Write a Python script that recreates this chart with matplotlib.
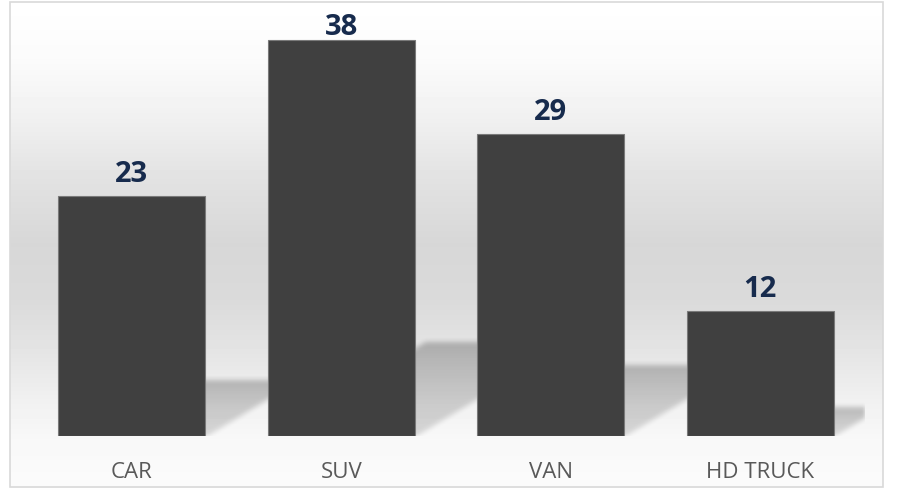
import matplotlib.pyplot as plt
from matplotlib.patches import Rectangle
import numpy as np

categories = ["CAR", "SUV", "VAN", "HD TRUCK"]
values = [23, 38, 29, 12]

BAR_COLOR = "#404040"
LABEL_COLOR = "#172B4D"
TICK_COLOR = "#595959"
FONT = ["Open Sans", "DejaVu Sans"]


def box_blur(a, k, axis):
    kern = np.ones(k) / k
    return np.apply_along_axis(lambda r: np.convolve(r, kern, mode="same"), axis, a)


fig = plt.figure(figsize=(8.98, 4.89), dpi=100)

# background gradient inside the chart border (white -> grey -> white)
bg = fig.add_axes([0, 0, 1, 1], zorder=0)
bg.set_xlim(0, 898)
bg.set_ylim(489, 0)
bg.axis("off")
stops_y = [3, 60, 120, 180, 245, 300, 350, 400, 440, 489]
stops_v = [255, 251, 240, 226, 215, 218, 228, 240, 248, 251]
rows = np.interp(np.arange(3, 489) + 0.5, stops_y, stops_v) / 255.0
grad = np.repeat(rows[:, None], 873, axis=1)
bg.imshow(grad, cmap="gray", vmin=0, vmax=1, aspect="auto",
          extent=(10, 883, 489, 3), interpolation="none")
bg.add_patch(Rectangle((10, 3), 873, 485, fill=False, edgecolor="#d9d9d9", linewidth=1.2))

ax = fig.add_axes([27 / 898, 52 / 489, (865 - 27) / 898, (437 - 20) / 489], zorder=1)
ax.patch.set_alpha(0)
x = np.arange(len(categories))
width = 0.70
x0, x1 = -0.5, len(categories) - 0.5
y0, y1 = 0, 40

# soft floor shadows behind each bar, built on a pixel grid of the axes
nx, ny = 838, 417
gx = np.linspace(x0, x1, nx)
gy = np.linspace(y1, y0, ny)
GX, GY = np.meshgrid(gx, gy)
alpha = np.zeros((ny, nx))
for xi, v in zip(x, values):
    sh = 0.238 * v
    dx = 0.0196 * v
    t = np.clip(GY / sh, 0, 1)
    left = xi - width / 2 + dx * t
    right = xi + width / 2 + dx * t
    inside = (GY >= 0) & (GY <= sh) & (GX >= left) & (GX <= right)
    alpha = np.maximum(alpha, inside * (0.14 + 0.10 * t ** 1.5))
for _ in range(2):
    alpha = box_blur(alpha, 6, 0)
    alpha = box_blur(alpha, 6, 1)
shade = np.zeros((ny, nx, 4))
shade[..., 3] = alpha
ax.imshow(shade, aspect="auto", extent=(x0, x1, y0, y1), interpolation="none", zorder=1)

ax.set_xlim(x0, x1)
ax.set_ylim(y0, y1)

bars = ax.bar(x, values, width=width, color=BAR_COLOR, edgecolor="#7a7a7a",
              linewidth=0.8, zorder=3)

for xi, v in zip(x, values):
    label_y = min(v + 1.44, 38.6)
    ax.text(xi, label_y, str(v), ha="center", va="baseline", fontsize=21,
            fontweight="bold", color=LABEL_COLOR, family=FONT, zorder=4)
    ax.annotate(categories[xi], xy=(xi, 0), xycoords=("data", "axes fraction"),
                xytext=(0, -29.5), textcoords="offset points",
                ha="center", va="baseline", fontsize=16, color=TICK_COLOR,
                family=FONT, annotation_clip=False)

ax.set_xticks([])
ax.set_yticks([])
for s in ax.spines.values():
    s.set_visible(False)

fig.savefig("out.png", dpi=100, facecolor="white")
